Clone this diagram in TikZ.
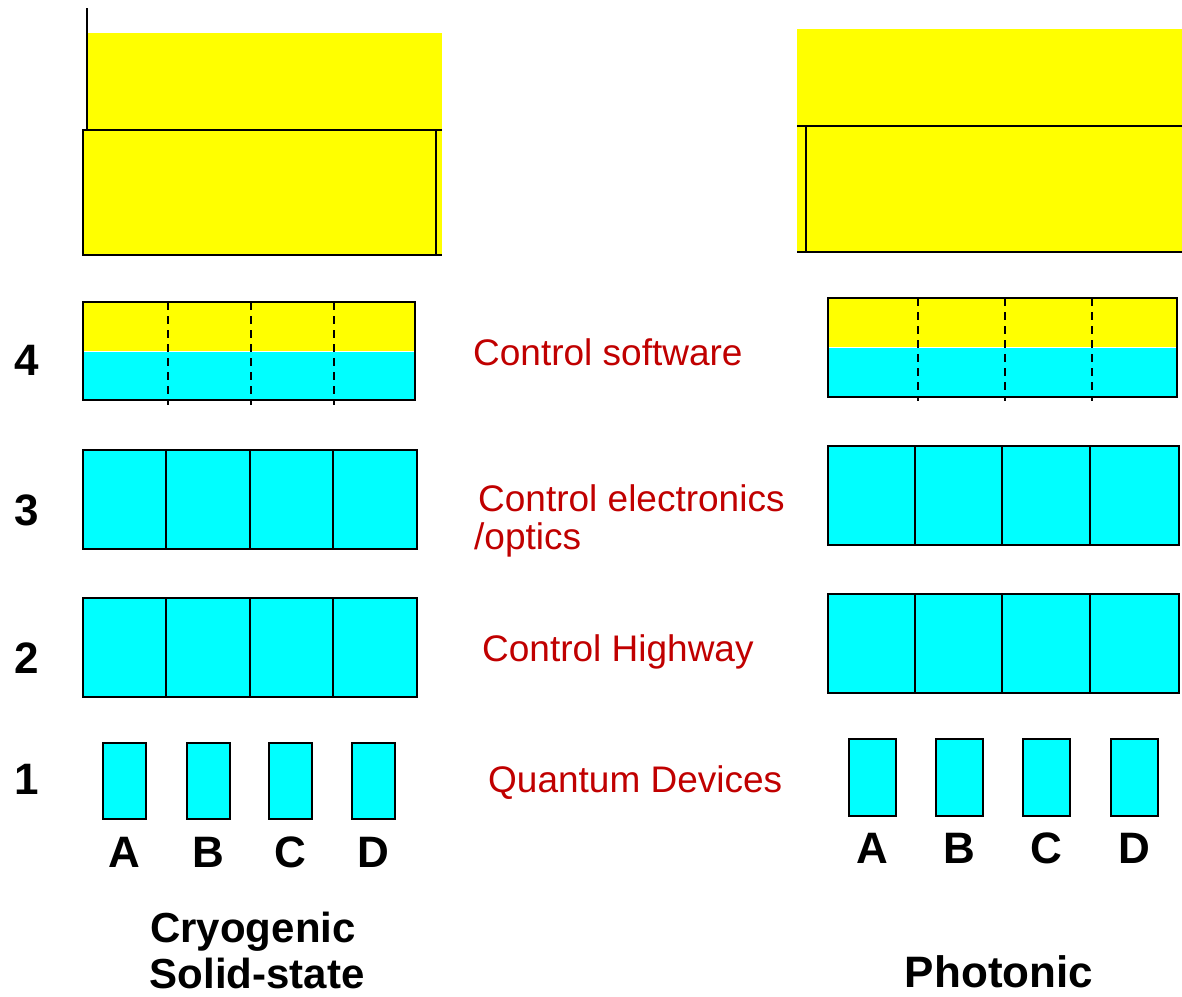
\documentclass[tikz,border=0pt]{standalone}
\usepackage{fontspec}
\setmainfont{Liberation Sans}
\definecolor{lemon}{HTML}{FFFF00}
\definecolor{aqua}{HTML}{00FFFF}
\definecolor{maroon}{HTML}{C00000}
\tikzset{edge/.style={draw=black,line width=2.8pt},
  cell/.style={edge,fill=aqua},
  cut/.style={line width=2.2pt,dash pattern=on 8pt off 6pt},
  lbl/.style={text=maroon,font=\fontsize{37}{37}\selectfont,inner sep=0pt,anchor=base west},
  num/.style={font=\bfseries\fontsize{44}{44}\selectfont,inner sep=0pt,anchor=base},
  tag/.style={font=\bfseries\fontsize{42}{46}\selectfont,inner sep=0pt,anchor=base}}

\begin{document}
\begin{tikzpicture}[x=1pt,y=-1pt]
\useasboundingbox (0,0) rectangle (1182,996);
% upper layers, cut off at the top
\fill[lemon] (87,33) rectangle (442,130);
\fill[lemon] (83,130) rectangle (442,255);
\draw[edge,line width=2.2pt] (87,8) -- (87,130);
\draw[edge] (442,130) -- (83,130) -- (83,255) -- (442,255);
\draw[edge] (436,130) -- (436,255);
\fill[lemon] (797,29) rectangle (1182,252);
\draw[edge] (797,126) -- (1182,126);
\draw[edge] (797,252) -- (1182,252);
\draw[edge] (806,126) -- (806,252);
% layer 4
\fill[lemon] (83,302) rectangle (415,351);
\fill[aqua] (83,351) rectangle (415,400);
\draw[white,line width=1pt] (83,351) -- (415,351);
\draw[edge] (83,302) rectangle (415,400);
\foreach \x in {168,251,334} \draw[cut] (\x,302) -- (\x,405);
\fill[lemon] (828,298) rectangle (1177,347);
\fill[aqua] (828,347) rectangle (1177,397);
\draw[white,line width=1pt] (828,347) -- (1177,347);
\draw[edge] (828,298) rectangle (1177,397);
\foreach \x in {918,1005,1092} \draw[cut] (\x,298) -- (\x,401);
% layers 3 and 2
\foreach \y in {450,598}{
  \draw[cell] (83,\y) rectangle (417,\y+99);
  \foreach \x in {166,250,333} \draw[edge] (\x,\y) -- (\x,\y+99);
}
\foreach \y in {446,594}{
  \draw[cell] (828,\y) rectangle (1179,\y+99);
  \foreach \x in {915,1002,1090} \draw[edge] (\x,\y) -- (\x,\y+99);
}
% layer 1
\foreach \x/\t in {103/A,187/B,269/C,352/D}{
  \draw[cell] (\x,743) rectangle (\x+43,819);
  \node[num] (l\t) at (\x+21.5,867) {\t};
}
\foreach \x/\t in {849/A,936/B,1023/C,1111/D}{
  \draw[cell] (\x,739) rectangle (\x+47,816);
  \node[num] (r\t) at (\x+23.5,863) {\t};
}
% layer numbers
\node[num] (n4) at (27,375) {4};
\node[num] (n3) at (27,525) {3};
\node[num] (n2) at (27,673) {2};
\node[num] (n1) at (27,794) {1};
% layer names
\node[lbl] (soft) at (473,365) {Control software};
\node[lbl] (elec) at (478,511) {Control electronics};
\node[lbl] (optics) at (474,549) {/optics};
\node[lbl] (hwy) at (482,661) {Control Highway};
\node[lbl] (qdev) at (488,792) {Quantum Devices};
% columns
\node[tag] (cryo) at (253,942) {Cryogenic};
\node[tag] (solid) at (257,988) {Solid-state};
\node[tag,font=\bfseries\fontsize{44}{44}\selectfont] (phot) at (999,987) {Photonic};
\end{tikzpicture}
\end{document}
